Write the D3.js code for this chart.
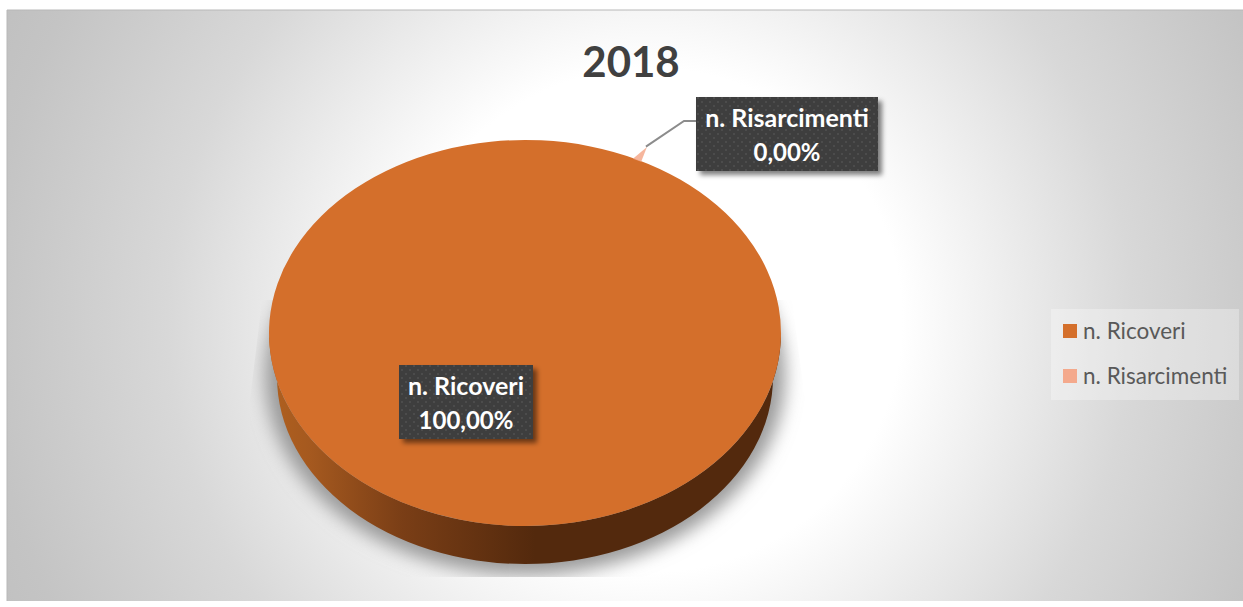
<!DOCTYPE html>
<html>
<head>
<meta charset="utf-8">
<script src="https://cdn.jsdelivr.net/npm/d3@7"></script>
<style>
  html, body { margin: 0; padding: 0; background: #fff; }
  svg { display: block; }
  text { font-family: Lato, "Open Sans", sans-serif; }
</style>
</head>
<body>
<svg id="canvas" width="1243" height="607"></svg>
<script>
// Chart data
const title = "2018";
const categories = ["n. Ricoveri", "n. Risarcimenti"];
const values = [100, 0];
const valueLabels = ["100,00%", "0,00%"];
const colors = ["#d46f2b", "#f4a98c"];

const svg = d3.select("#canvas");
const defs = svg.append("defs");

// Pie geometry (ellipse, because the pie is tilted)
// The bottom rim is a bit narrower than the top one, like in a perspective view
const cx = 525, cy = 333, rx = 256, ry = 193, depth = 44, bottomRx = 248;
const firstAngle = 0.455;
const squash = ry / rx;

// Background of the chart area
const bg = defs.append("radialGradient").attr("id", "bg")
  .attr("gradientUnits", "userSpaceOnUse")
  .attr("cx", 650).attr("cy", 320).attr("r", 720);
[[0.35, "#ffffff"], [0.54, "#e8e8e8"], [0.67, "#d8d8d8"], [0.92, "#c4c4c4"], [1, "#c0c0c0"]]
  .forEach(([o, c]) => bg.append("stop").attr("offset", o).attr("stop-color", c));

// Side of the pie
const side = defs.append("linearGradient").attr("id", "side");
[[0, "#b0601f"], [0.08, "#a5591f"], [0.26, "#7a3e16"], [0.52, "#53290d"], [1, "#53290d"]]
  .forEach(([o, c]) => side.append("stop").attr("offset", o).attr("stop-color", c));

// Dotted fill of the data labels
const dots = defs.append("pattern").attr("id", "dots")
  .attr("patternUnits", "userSpaceOnUse").attr("width", 8).attr("height", 8);
dots.append("rect").attr("width", 8).attr("height", 8).attr("fill", "#3e3e3e");
dots.append("circle").attr("cx", 2).attr("cy", 2).attr("r", 1).attr("fill", "#505050");
dots.append("circle").attr("cx", 6).attr("cy", 6).attr("r", 1).attr("fill", "#505050");

const blur = (id, sd) => defs.append("filter").attr("id", id)
  .attr("x", "-20%").attr("y", "-20%").attr("width", "140%").attr("height", "140%")
  .append("feGaussianBlur").attr("stdDeviation", sd);
blur("pieShadow", 9);
blur("labelShadow", 2.5);

defs.append("clipPath").attr("id", "shadowClip")
  .append("path").attr("d", d3.line()([[262, 300], [792, 300], [805, 400], [805, 577], [250, 577], [250, 400]]));

svg.append("rect").attr("x", 7).attr("y", 10).attr("width", 1236).attr("height", 591)
  .attr("fill", "url(#bg)");
svg.append("path").attr("d", d3.line()([[7, 601], [7, 10], [1243, 10]]))
  .attr("fill", "none").attr("stroke", "#b8b8b8").attr("stroke-width", 1);

// Title
svg.append("text").attr("x", 631).attr("y", 77).attr("text-anchor", "middle")
  .attr("font-size", 42).attr("font-weight", 700).attr("fill", "#404040").text(title);

// Pie
const pie = d3.pie().sort(null).startAngle(firstAngle).endAngle(firstAngle + 2 * Math.PI);
const arcs = pie(values);
const arc = d3.arc().innerRadius(0).outerRadius(rx);

const pieG = svg.append("g");

const sidePath = d3.path();
const d = depth / squash;
sidePath.moveTo(-rx, 0);
sidePath.lineTo(-bottomRx, d);
sidePath.arc(0, d, bottomRx, Math.PI, 0, true);
sidePath.lineTo(rx, 0);
sidePath.arc(0, 0, rx, 0, Math.PI, false);
sidePath.closePath();

// Soft shadow under the pie
pieG.append("g").attr("clip-path", "url(#shadowClip)")
  .append("ellipse")
  .attr("cx", cx).attr("cy", cy + 42).attr("rx", rx + 4).attr("ry", ry + 7)
  .attr("fill", "#9a9a9a").attr("filter", "url(#pieShadow)");

const pieBody = pieG.append("g").attr("transform", `translate(${cx},${cy}) scale(1,${squash})`);
pieBody.append("path").attr("d", sidePath.toString()).attr("fill", "url(#side)");
pieBody.selectAll("path.slice").data(arcs).enter().append("path")
  .attr("class", "slice")
  .attr("d", arc)
  .attr("fill", (e, i) => colors[i]);

// The 0% slice has no area, it only shows as a small tip on the rim
const zero = arcs[1];
const tip = d3.lineRadial().angle((p) => p[0]).radius((p) => p[1]);
pieBody.append("path")
  .attr("d", tip([
    [zero.startAngle - 0.018, rx - 1],
    [zero.startAngle + 0.004, rx * 1.075],
    [zero.startAngle + 0.018, rx - 1],
  ]))
  .attr("fill", colors[1]).attr("fill-opacity", 0.85);

// Leader line of the 0% label
const tipX = cx + rx * 1.075 * Math.sin(zero.startAngle);
const tipY = cy - ry * 1.075 * Math.cos(zero.startAngle);
svg.append("path")
  .attr("d", d3.line()([[tipX, tipY], [684, 121], [697, 121]]))
  .attr("fill", "none").attr("stroke", "#8c8c8c").attr("stroke-width", 2);

// Data labels
const labelBoxes = [
  { x: 399, y: 365, w: 134, h: 74 },
  { x: 696, y: 97, w: 182, h: 74 },
];
const labels = svg.selectAll("g.label").data(labelBoxes).enter().append("g").attr("class", "label");
labels.append("rect")
  .attr("x", (b) => b.x + 4).attr("y", (b) => b.y + 4).attr("width", (b) => b.w).attr("height", (b) => b.h)
  .attr("fill", "#000").attr("fill-opacity", 0.5).attr("filter", "url(#labelShadow)");
labels.append("rect")
  .attr("x", (b) => b.x).attr("y", (b) => b.y).attr("width", (b) => b.w).attr("height", (b) => b.h)
  .attr("fill", "url(#dots)");
labels.append("text")
  .attr("x", (b) => b.x + b.w / 2).attr("y", (b) => b.y + 30).attr("text-anchor", "middle")
  .attr("font-size", 25).attr("font-weight", 700).attr("fill", "#fff")
  .text((b, i) => categories[i]);
labels.append("text")
  .attr("x", (b) => b.x + b.w / 2).attr("y", (b) => b.y + 64).attr("text-anchor", "middle")
  .attr("font-size", 24).attr("font-weight", 700).attr("fill", "#fff")
  .text((b, i) => valueLabels[i]);

// Legend
const legendY = d3.scalePoint().domain(categories).range([331, 376]);
svg.append("rect").attr("x", 1051).attr("y", 309).attr("width", 188).attr("height", 91)
  .attr("fill", "#fff").attr("fill-opacity", 0.3);
const legend = svg.selectAll("g.legend").data(categories).enter().append("g")
  .attr("class", "legend")
  .attr("transform", (c) => `translate(1063,${legendY(c)})`);
legend.append("rect").attr("y", -7).attr("width", 14).attr("height", 14)
  .attr("fill", (c, i) => colors[i]);
legend.append("text").attr("x", 20).attr("y", 8)
  .attr("font-size", 22.5).attr("fill", "#595959").text((c) => c);
</script>
</body>
</html>
